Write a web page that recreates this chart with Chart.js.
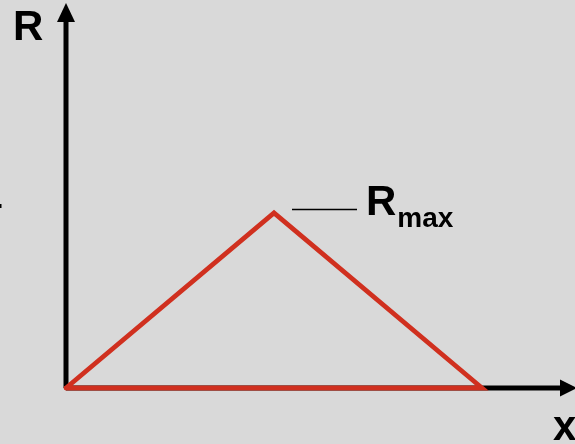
<!DOCTYPE html>
<html lang="en">
<head>
<meta charset="UTF-8">
<script src="https://cdn.jsdelivr.net/npm/chart.js"></script>
<title>R vs x</title>
<style>
  html, body { margin: 0; padding: 0; background: #d9d9d9; }
  #box { width: 575px; height: 444px; }
</style>
</head>
<body>
<div id="box"><canvas id="myChart" width="575" height="444"></canvas></div>
<script>
// triangle: rises from origin to R max, falls back to zero, closed along the x axis
const xValues = [0, 0.5, 1, 0];
const rValues = [0, 1, 0, 0];
const axisNames = ['x', 'R'];
const peakLabel = ['R', 'max'];

const pontos = xValues.map((x, i) => ({ x: x, y: rValues[i] }));

const fonte = 'bold 42px "Liberation Sans", Arial, sans-serif';
const fonteSub = 'bold 28px "Liberation Sans", Arial, sans-serif';

// axes with arrows + labels, drawn using the chart scales
const eixos = {
  id: 'eixos',
  beforeDatasetsDraw(chart) {
    const ctx = chart.ctx;
    const sx = chart.scales.x, sy = chart.scales.y;
    const x0 = sx.getPixelForValue(0), y0 = sy.getPixelForValue(0);
    const right = chart.width, top = 3;
    ctx.save();
    ctx.strokeStyle = '#000';
    ctx.fillStyle = '#000';
    ctx.lineWidth = 5;
    ctx.beginPath();
    ctx.moveTo(x0, y0);
    ctx.lineTo(x0, top + 15);
    ctx.moveTo(x0, y0);
    ctx.lineTo(right - 12, y0);
    ctx.stroke();
    // up arrow
    ctx.beginPath();
    ctx.moveTo(x0, top);
    ctx.lineTo(x0 - 9, top + 19);
    ctx.lineTo(x0 + 9, top + 19);
    ctx.closePath();
    ctx.fill();
    // right arrow
    ctx.beginPath();
    ctx.moveTo(right + 2, y0);
    ctx.lineTo(right - 15, y0 - 8.5);
    ctx.lineTo(right - 15, y0 + 8.5);
    ctx.closePath();
    ctx.fill();
    ctx.restore();
  },
  afterDatasetsDraw(chart) {
    const ctx = chart.ctx;
    const sx = chart.scales.x, sy = chart.scales.y;
    const x0 = sx.getPixelForValue(0), y0 = sy.getPixelForValue(0);
    const px = sx.getPixelForValue(xValues[1]), py = sy.getPixelForValue(rValues[1]);
    ctx.save();
    ctx.fillStyle = '#000';
    ctx.textBaseline = 'alphabetic';
    ctx.textAlign = 'left';
    ctx.font = fonte;
    ctx.fillText(axisNames[1], x0 - 53, 40);
    ctx.fillText(axisNames[0], chart.width - 22, y0 + 52);
    // leader line and R max
    ctx.strokeStyle = '#000';
    ctx.lineWidth = 1.6;
    ctx.beginPath();
    ctx.moveTo(px + 18, py - 3.5);
    ctx.lineTo(px + 83, py - 3.5);
    ctx.stroke();
    ctx.fillText(peakLabel[0], px + 92, py + 2);
    const w = ctx.measureText(peakLabel[0]).width;
    ctx.font = fonteSub;
    ctx.fillText(peakLabel[1], px + 93 + w, py + 14);
    // small tick cut off at the left edge
    ctx.fillRect(0, py - 9, 1.5, 4);
    ctx.restore();
  }
};

const config = {
  type: 'scatter',
  data: {
    datasets: [{
      data: pontos,
      showLine: true,
      borderColor: '#d0301f',
      borderWidth: 4.8,
      pointRadius: 0,
      fill: false,
      tension: 0,
      borderJoinStyle: 'miter',
      borderCapStyle: 'round'
    }]
  },
  options: {
    responsive: false,
    animation: false,
    events: [],
    layout: { padding: 0 },
    plugins: { legend: { display: false }, tooltip: { enabled: false } },
    scales: {
      x: { type: 'linear', display: false, min: -66 / 416, max: 509 / 416 },
      y: { type: 'linear', display: false, min: -56 / 175, max: 388 / 175 }
    }
  },
  plugins: [eixos]
};

let myChart = new Chart(document.getElementById('myChart'), config);
</script>
</body>
</html>
